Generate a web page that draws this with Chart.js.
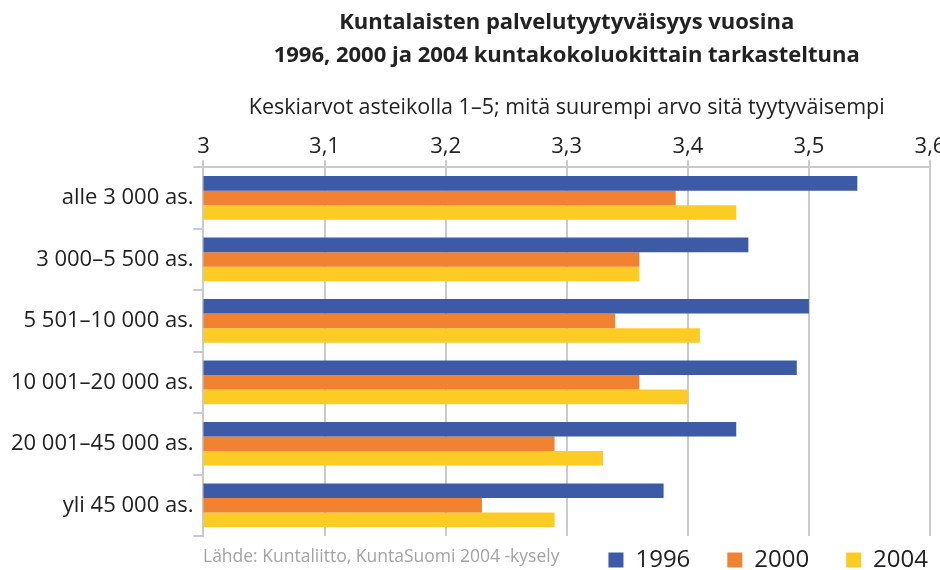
<!DOCTYPE html>
<html>
<head>
<meta charset="utf-8">
<script src="https://cdn.jsdelivr.net/npm/chart.js@4/dist/chart.umd.min.js"></script>
<style>
  html, body { margin: 0; padding: 0; background: #fff; }
  #wrap { width: 940px; height: 570px; }
</style>
</head>
<body>
<div id="wrap"><canvas id="myChart" width="940" height="570"></canvas></div>
<script>
const categories = [
    'alle 3 000 as.',
    '3 000–5 500 as.',
    '5 501–10 000 as.',
    '10 001–20 000 as.',
    '20 001–45 000 as.',
    'yli 45 000 as.'
];
const values1996 = [3.54, 3.45, 3.50, 3.49, 3.44, 3.38];
const values2000 = [3.39, 3.36, 3.34, 3.36, 3.29, 3.23];
const values2004 = [3.44, 3.36, 3.41, 3.40, 3.33, 3.29];
const tickValues = [3, 3.1, 3.2, 3.3, 3.4, 3.5, 3.6];

const font = "'Open Sans', 'DejaVu Sans', sans-serif";
const gridGray = '#c9cacf';

// source note drawn in the bottom-left corner
const sourceNote = {
    id: 'sourceNote',
    afterDraw(chart) {
        const ctx = chart.ctx;
        ctx.save();
        ctx.font = '17.5px ' + font;
        ctx.fillStyle = '#a3a3a3';
        ctx.textAlign = 'left';
        ctx.textBaseline = 'middle';
        ctx.fillText('Lähde: Kuntaliitto, KuntaSuomi 2004 -kysely', 203, 557);
        ctx.restore();
    }
};

const data = {
    labels: categories,
    datasets: [
        { label: '1996', data: values1996, backgroundColor: '#3d5aa6' },
        { label: '2000', data: values2000, backgroundColor: '#f08232' },
        { label: '2004', data: values2004, backgroundColor: '#fccb24' }
    ]
};

const config = {
    type: 'bar',
    data: data,
    plugins: [sourceNote],
    options: {
        indexAxis: 'y',
        responsive: false,
        animation: false,
        layout: { padding: { left: 11, right: 0, top: 4, bottom: -12 } },
        datasets: {
            bar: { categoryPercentage: 0.71, barPercentage: 1 }
        },
        plugins: {
            title: {
                display: true,
                fullSize: false,
                text: ['Kuntalaisten palvelutyytyväisyys vuosina', '1996, 2000 ja 2004 kuntakokoluokittain tarkasteltuna'],
                color: '#222',
                font: { family: font, size: 22, weight: 'bold', lineHeight: 1.5 },
                padding: { top: 2, bottom: 23 }
            },
            subtitle: {
                display: true,
                fullSize: false,
                text: 'Keskiarvot asteikolla 1–5; mitä suurempi arvo sitä tyytyväisempi',
                color: '#222',
                font: { family: font, size: 21.5 },
                padding: { top: 0, bottom: 13 }
            },
            legend: {
                position: 'bottom',
                align: 'end',
                labels: {
                    color: '#222',
                    font: { family: font, size: 24 },
                    boxWidth: 15,
                    boxHeight: 15,
                    padding: 12,
                    generateLabels: (chart) => {
                        const items = Chart.defaults.plugins.legend.labels.generateLabels(chart);
                        items.forEach((it, i) => {
                            if (i < items.length - 1) it.text = it.text + '    ';
                        });
                        return items;
                    }
                }
            },
            tooltip: { enabled: false }
        },
        scales: {
            x: {
                position: 'top',
                min: 3,
                max: 3.6,
                afterBuildTicks: (scale) => {
                    scale.ticks = tickValues.map(v => ({ value: v }));
                },
                afterFit: (scale) => {
                    scale.paddingRight = 10;
                },
                ticks: {
                    color: '#222',
                    font: { family: font, size: 22 },
                    padding: 0,
                    callback: (v) => String(Math.round(v * 10) / 10).replace('.', ',')
                },
                grid: { color: gridGray, lineWidth: 2, tickLength: 7 },
                border: { color: gridGray, width: 2 }
            },
            y: {
                ticks: {
                    color: '#222',
                    font: { family: font, size: 22 },
                    padding: 0
                },
                grid: {
                    offset: true,
                    lineWidth: 2,
                    tickLength: 10,
                    tickColor: gridGray,
                    color: (ctx) => (ctx.index === 0 || ctx.index === categories.length) ? gridGray : 'rgba(0,0,0,0)'
                },
                border: { color: gridGray, width: 2 }
            }
        }
    }
};

const myChart = new Chart(document.getElementById('myChart'), config);
</script>
</body>
</html>
